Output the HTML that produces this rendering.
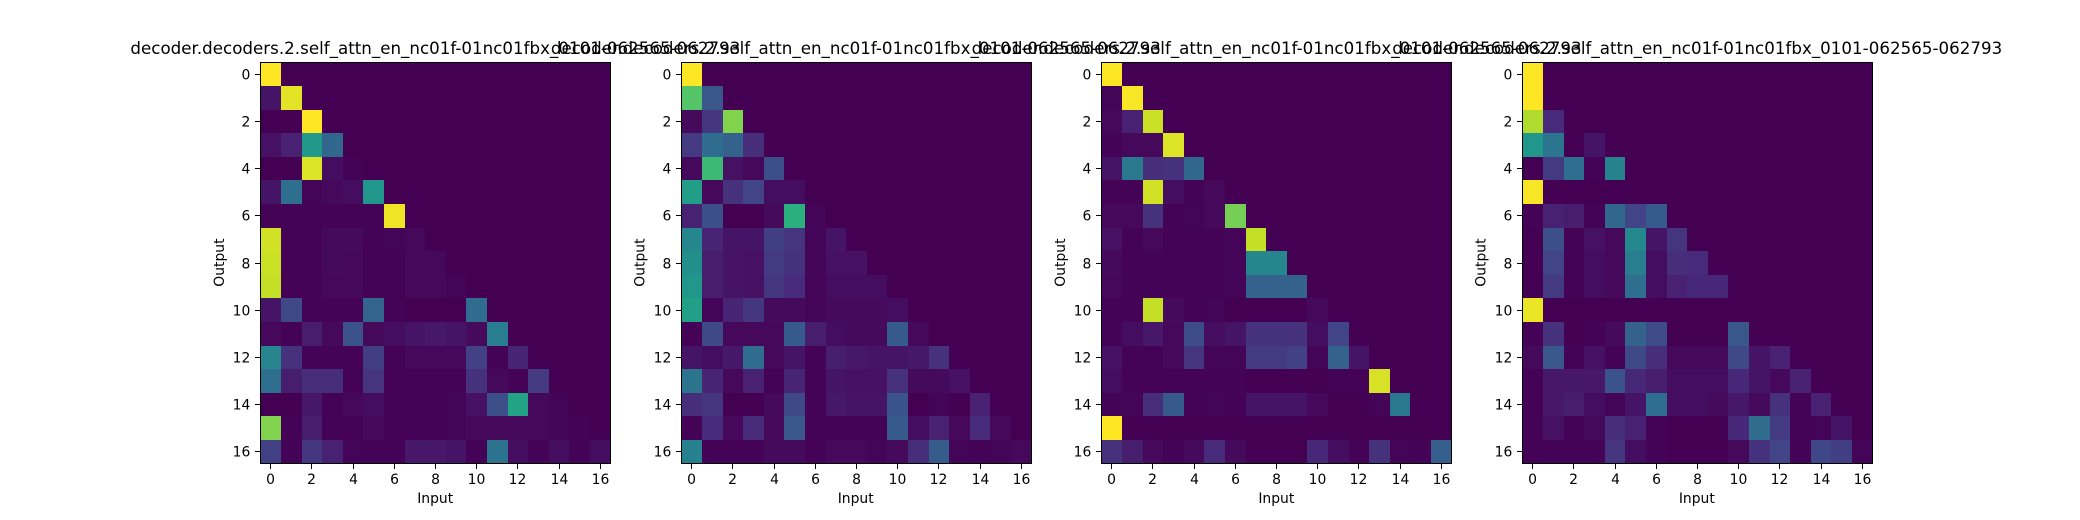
<!DOCTYPE html>
<html lang="en">
<head>
<meta charset="utf-8">
<title>Attention heatmaps</title>
<style>
  html, body { margin: 0; padding: 0; background: #fff; }
  svg { display: block; }
  text { font-family: "DejaVu Sans", "Liberation Sans", sans-serif; fill: #000; }
  .title { font-size: 16.67px; text-anchor: middle; }
  .axis-label { font-size: 13.89px; text-anchor: middle; }
  .tick-label { font-size: 13.89px; }
</style>
</head>
<body>
<svg id="figure" xmlns="http://www.w3.org/2000/svg" width="2080" height="520" viewBox="0 0 2080 520">
  <rect x="0" y="0" width="2080" height="520" fill="#ffffff"/>
  <g id="panel-0">
    <text class="title" x="435.4" y="54" textLength="610" lengthAdjust="spacing">decoder.decoders.2.self_attn_en_nc01f-01nc01fbx_0101-062565-062793</text>
    <text class="axis-label" x="435.2" y="503">Input</text>
    <text class="axis-label" transform="translate(224 262.6) rotate(-90)">Output</text>
  </g>
  <g id="panel-1">
    <text class="title" x="855.9" y="54" textLength="610" lengthAdjust="spacing">decoder.decoders.2.self_attn_en_nc01f-01nc01fbx_0101-062565-062793</text>
    <text class="axis-label" x="855.7" y="503">Input</text>
    <text class="axis-label" transform="translate(644.5 262.6) rotate(-90)">Output</text>
  </g>
  <g id="panel-2">
    <text class="title" x="1276.6" y="54" textLength="610" lengthAdjust="spacing">decoder.decoders.2.self_attn_en_nc01f-01nc01fbx_0101-062565-062793</text>
    <text class="axis-label" x="1276.3" y="503">Input</text>
    <text class="axis-label" transform="translate(1065 262.6) rotate(-90)">Output</text>
  </g>
  <g id="panel-3">
    <text class="title" x="1697.2" y="54" textLength="610" lengthAdjust="spacing">decoder.decoders.2.self_attn_en_nc01f-01nc01fbx_0101-062565-062793</text>
    <text class="axis-label" x="1696.8" y="503">Input</text>
    <text class="axis-label" transform="translate(1485.5 262.6) rotate(-90)">Output</text>
  </g>
</svg>
<script>
const tickValues = [0, 2, 4, 6, 8, 10, 12, 14, 16];
const tickLabels = ["0", "2", "4", "6", "8", "10", "12", "14", "16"];

const panel1Values = [
  [1],
  [.055,.96],
  [0,0,1],
  [.045,.09,.53,.33],
  [0,0,.95,.035,.005],
  [.055,.36,.012,.02,.035,.52],
  [.005,.005,.005,.005,.005,.005,.98],
  [.93,.005,.005,.025,.025,.005,.012,.02],
  [.92,.005,.005,.025,.02,.005,.005,.02,.02],
  [.91,.005,.005,.02,.02,.005,.005,.02,.02,.012],
  [.055,.22,.005,.005,.005,.32,.005,0,0,0,.35],
  [.02,.005,.08,.02,.25,.025,.035,.055,.065,.055,.025,.42],
  [.45,.14,.005,.005,.005,.18,.005,.02,.02,.02,.19,.005,.1],
  [.36,.08,.13,.13,.005,.15,.005,.005,.005,.005,.14,.02,.005,.17],
  [0,0,.065,.005,.02,.035,.005,.005,.005,.012,.045,.24,.58,.02,.012],
  [.81,.005,.08,.005,.005,.02,.005,.005,.005,.012,.02,.02,.02,.02,.012,.005],
  [.19,.005,.16,.09,.012,.005,.005,.065,.065,.055,.005,.38,.035,.005,.035,.005,.035]
];

const panel2Values = [
  [1],
  [.73,.27],
  [.025,.16,.81],
  [.17,.35,.31,.13],
  [.02,.68,.045,.02,.24],
  [.55,.02,.14,.2,.035,.035],
  [.09,.24,0,0,.025,.63,.012],
  [.46,.1,.055,.055,.18,.15,.012,.055],
  [.49,.08,.055,.045,.17,.14,.012,.045,.045],
  [.52,.08,.055,.045,.16,.12,.012,.035,.035,.035],
  [.56,.012,.1,.16,.025,.025,.012,.025,.025,.025,.035],
  [.005,.22,.02,.02,.02,.28,.08,.035,.025,.025,.28,.02],
  [.055,.035,.065,.35,.02,.055,.005,.08,.065,.055,.055,.065,.14],
  [.38,.1,.02,.09,.005,.1,.005,.055,.045,.045,.14,.025,.025,.045],
  [.13,.16,0,0,.025,.22,.005,.065,.055,.055,.26,0,.012,0,.09],
  [.005,.12,.02,.12,.02,.27,.005,.005,.005,.005,.28,.035,.09,.02,.12,.02],
  [.43,.005,.005,.005,.025,.025,.005,.02,.02,.012,.025,.13,.29,.012,.005,.012,.02]
];

const panel3Values = [
  [1],
  [.012,.99],
  [.02,.09,.92],
  [.005,.02,.02,.95],
  [.055,.4,.13,.14,.33],
  [.005,.005,.93,.035,.005,.02],
  [.02,.02,.14,.005,.012,.02,.79],
  [.045,.005,.02,.005,.005,.005,.012,.91],
  [.025,.005,.005,.005,.005,.005,.012,.46,.46],
  [.02,.005,.005,.005,.005,.005,.012,.31,.31,.31],
  [.005,.005,.91,.025,.005,.012,0,0,0,0,.02],
  [.005,.035,.065,.02,.23,.035,.055,.14,.14,.14,.035,.2],
  [.045,.005,.005,.02,.15,.012,.012,.17,.17,.19,.012,.31,.055],
  [.035,.005,.005,.005,.005,.005,.005,0,0,0,0,.005,.005,.94],
  [.005,.012,.13,.28,.005,.012,.005,.055,.055,.055,.02,0,0,.012,.4],
  [1],
  [.14,.08,.02,.005,.025,.12,.025,0,0,0,.11,.035,.005,.14,.012,.005,.3]
];

const panel4Values = [
  [1],
  [1],
  [.88,.12],
  [.52,.39,0,.055],
  [0,.17,.36,.005,.44],
  [.99],
  [.005,.09,.08,.005,.33,.2,.28],
  [0,.24,.005,.045,.02,.47,.055,.15],
  [0,.2,.005,.035,.02,.42,.035,.13,.12],
  [0,.17,.005,.035,.02,.36,.035,.09,.11,.11],
  [.97],
  [.005,.14,0,.005,.025,.31,.23,0,0,0,.27],
  [.025,.27,.005,.045,.005,.22,.13,.02,.02,.02,.22,.055,.09],
  [.005,.065,.065,.065,.26,.11,.08,.035,.035,.035,.11,.055,.02,.09],
  [.005,.065,.08,.035,.012,.055,.36,.035,.035,.025,.065,.025,.14,.005,.09],
  [.005,.045,.005,.025,.13,.09,.005,0,0,0,.11,.35,.17,.005,.012,.055],
  [.005,.005,.005,.005,.15,.035,.005,0,0,0,.02,.14,.2,.005,.21,.18,.012]
];

const SVG_NS = "http://www.w3.org/2000/svg";
const GRID_SIZE = 17;
const AXES_WIDTH = 350;
const AXES_TOP = 62;
const AXES_BOTTOM = 463;
const COLOR_STOPS = [
  [68,1,84],[72,36,117],[65,68,135],[53,95,141],[42,120,142],
  [33,145,140],[34,168,132],[66,190,113],[122,209,81],[189,223,38],[253,231,37]
];

function viridis(value) {
  const v = Math.max(0, Math.min(1, value)) * 10;
  const i = Math.min(9, Math.floor(v));
  const f = v - i;
  const a = COLOR_STOPS[i];
  const b = COLOR_STOPS[i + 1];
  const ch = function (k) { return Math.round(a[k] + (b[k] - a[k]) * f); };
  return "rgb(" + ch(0) + "," + ch(1) + "," + ch(2) + ")";
}

function make(tag, parent) {
  const el = document.createElementNS(SVG_NS, tag);
  parent.appendChild(el);
  return el;
}

function drawPanel(group, left, rows) {
  const xEdge = function (c) { return left + 0.5 + c * AXES_WIDTH / GRID_SIZE; };
  const yEdge = function (r) { return AXES_TOP + 0.5 + r * (AXES_BOTTOM - AXES_TOP) / GRID_SIZE; };
  const xTick = function (c) { return Math.floor(xEdge(c + 0.5)) + 0.5; };
  const yTick = function (r) { return Math.floor(yEdge(r + 0.5)) + 0.5; };

  const cells = make("g", group);
  
  
  cells.setAttribute("shape-rendering", "crispEdges");
  for (let r = 0; r < GRID_SIZE; r++) {
    for (let c = 0; c < GRID_SIZE; c++) {
      const value = rows[r][c] || 0;
      const x0 = Math.round(xEdge(c));
      const x1 = Math.round(xEdge(c + 1));
      const y0 = Math.round(yEdge(r));
      const y1 = Math.round(yEdge(r + 1));
      const cell = make("rect", cells);
      
      
      cell.setAttribute("x", x0);
      cell.setAttribute("y", y0);
      cell.setAttribute("width", x1 - x0);
      cell.setAttribute("height", y1 - y0);
      cell.setAttribute("fill", viridis(value));
    }
  }

  const frame = make("rect", group);
  
  
  frame.setAttribute("x", left + 0.5);
  frame.setAttribute("y", AXES_TOP + 0.5);
  frame.setAttribute("width", AXES_WIDTH);
  frame.setAttribute("height", AXES_BOTTOM - AXES_TOP);
  frame.setAttribute("fill", "none");
  frame.setAttribute("stroke", "#000");
  frame.setAttribute("stroke-width", "1");

  tickValues.forEach(function (tick, i) {
    const px = xTick(tick);
    const xMark = make("line", group);
    
    
    xMark.setAttribute("x1", px);
    xMark.setAttribute("x2", px);
    xMark.setAttribute("y1", AXES_BOTTOM + 1);
    xMark.setAttribute("y2", AXES_BOTTOM + 6);
    xMark.setAttribute("stroke", "#000");
    xMark.setAttribute("stroke-width", "1");

    const xText = make("text", group);
    
    
    xText.setAttribute("class", "tick-label");
    xText.setAttribute("x", px);
    xText.setAttribute("y", 484);
    xText.setAttribute("text-anchor", "middle");
    xText.textContent = tickLabels[i];

    const py = yTick(tick);
    const yMark = make("line", group);
    
    
    yMark.setAttribute("x1", left - 5);
    yMark.setAttribute("x2", left);
    yMark.setAttribute("y1", py);
    yMark.setAttribute("y2", py);
    yMark.setAttribute("stroke", "#000");
    yMark.setAttribute("stroke-width", "1");

    const yText = make("text", group);
    
    
    yText.setAttribute("class", "tick-label");
    yText.setAttribute("x", left - 9.7);
    yText.setAttribute("y", py + 5);
    yText.setAttribute("text-anchor", "end");
    yText.textContent = tickLabels[i];
  });
}

drawPanel(document.getElementById("panel-0"), 260, panel1Values);
drawPanel(document.getElementById("panel-1"), 681, panel2Values);
drawPanel(document.getElementById("panel-2"), 1101, panel3Values);
drawPanel(document.getElementById("panel-3"), 1522, panel4Values);
</script>
</body>
</html>
